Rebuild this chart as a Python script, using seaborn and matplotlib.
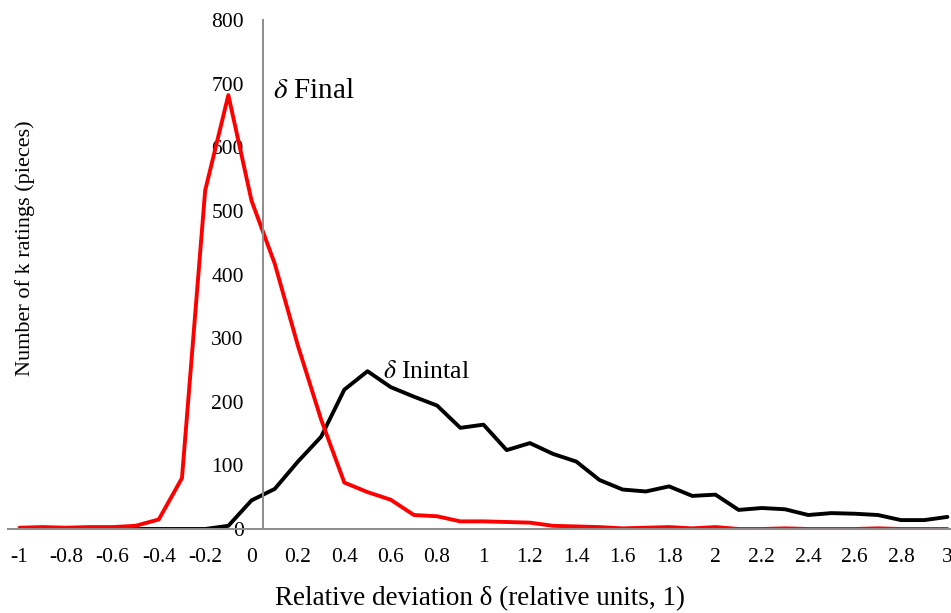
import numpy as np
import pandas as pd
import matplotlib
matplotlib.use('Agg')
import matplotlib.pyplot as plt
from matplotlib.ticker import FixedLocator
import seaborn as sns

# Relative deviation categories (-1 ... 3 in steps of 0.1)
delta = [round(-1 + 0.1 * i, 1) for i in range(41)]

# Counts for the final deviation (red)
final_counts = [2, 3, 2, 3, 3, 5, 15, 80, 532, 682, 516, 417, 288, 172, 73, 58, 46, 22,
                20, 12, 12, 11, 10, 5, 4, 3, 1, 2, 3, 1, 3, 0, 0, 1, 0, 0, 0, 1, 0, 0, 0]

# Counts for the initial deviation (black)
initial_counts = [0, 0, 0, 0, 0, 0, 0, 0, 0, 5, 45, 63, 106, 145, 219, 248, 223, 208,
                  194, 159, 164, 124, 135, 118, 106, 77, 62, 59, 67, 52, 54, 30, 33, 31,
                  22, 25, 24, 22, 14, 14, 19]

x_labels = [-1, -0.8, -0.6, -0.4, -0.2, 0, 0.2, 0.4, 0.6, 0.8, 1, 1.2, 1.4, 1.6, 1.8,
            2, 2.2, 2.4, 2.6, 2.8, 3]
y_ticks = [0, 100, 200, 300, 400, 500, 600, 700, 800]

df = pd.DataFrame({"delta": delta, "final": final_counts, "initial": initial_counts})

sns.set_style('white')
plt.rcParams['font.family'] = ['Liberation Serif', 'DejaVu Serif']
plt.rcParams['mathtext.fontset'] = 'stix'
plt.rcParams['axes.unicode_minus'] = False
plt.rcParams['text.color'] = 'black'
plt.rcParams['axes.labelcolor'] = 'black'

fig = plt.figure(figsize=(9.51, 6.13), dpi=100)
ax = fig.add_axes([8 / 951, 1 - 529 / 613, 951 / 951, 509 / 613])

sns.lineplot(data=df, x="delta", y="initial", color='black', linewidth=2.8, ax=ax)
sns.lineplot(data=df, x="delta", y="final", color='#ff0000', linewidth=2.8, ax=ax)

ax.set_xlim(-1.05, 3.05)
ax.set_ylim(0, 800)

# Excel-style category axis: labels at centres, tick marks at boundaries
ax.xaxis.set_major_locator(FixedLocator(x_labels))
ax.set_xticklabels([f"{v:g}" for v in x_labels])
ax.xaxis.set_minor_locator(FixedLocator([round(-1.05 + 0.1 * k, 2) for k in range(42)]))
ax.tick_params(axis='x', which='major', length=0, pad=14, labelsize=15.5, labelcolor='black')
ax.tick_params(axis='x', which='minor', length=6, width=1.2, color='#8c8c8c', direction='out')

ax.set_yticks(y_ticks)
ax.tick_params(axis='y', length=6, width=1.2, color='#8c8c8c', direction='out',
               labelsize=15.5, pad=8, labelcolor='black')

for side in ('top', 'right'):
    ax.spines[side].set_visible(False)
ax.spines['left'].set_position(('data', 0.05))
for side in ('left', 'bottom'):
    ax.spines[side].set_color('#8c8c8c')
    ax.spines[side].set_linewidth(1.4)

ax.set_xlabel('Relative deviation δ (relative units, 1)', fontsize=19.5)
ax.xaxis.set_label_coords(0.496, -0.136)
ax.xaxis.label.set_va('center')
ax.set_ylabel('Number of k ratings (pieces)', fontsize=16)
ax.yaxis.set_label_coords(0.018, 0.551)
ax.yaxis.label.set_va('center')

ax.text(0.092, 688, r'$\delta$ Final', fontsize=21, va='center', ha='left')
ax.text(0.566, 246, r'$\delta$ Inintal', fontsize=18.5, va='center', ha='left')

fig.savefig('out.png', dpi=100)
plt.close(fig)
